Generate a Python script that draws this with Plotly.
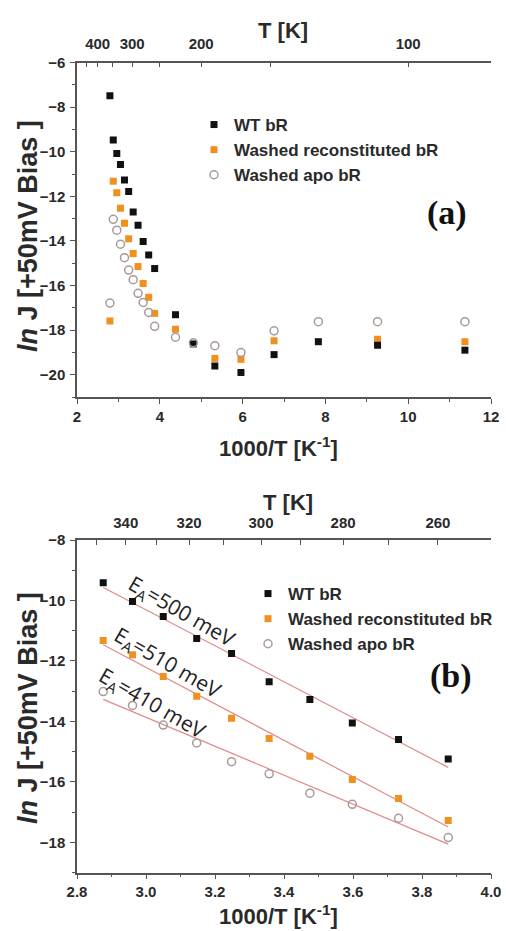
import numpy as np
import plotly.graph_objects as go

# ---------------- data: panel (a) ----------------
a_wt_x = [2.795, 2.876, 2.961, 3.05, 3.147, 3.248, 3.357, 3.475, 3.598, 3.732, 3.876,
          4.38, 4.81, 5.33, 5.96, 6.76, 7.83, 9.26, 11.37]
a_wt_y = [-7.49, -9.47, -10.08, -10.57, -11.27, -11.79, -12.70, -13.30, -14.03, -14.63, -15.24,
          -17.31, -18.62, -19.61, -19.90, -19.10, -18.52, -18.68, -18.90]

a_re_x = [2.795, 2.876, 2.961, 3.05, 3.147, 3.248, 3.357, 3.475, 3.598, 3.732, 3.876,
          4.38, 5.33, 5.96, 6.76, 9.26, 11.37]
a_re_y = [-17.59, -11.32, -11.84, -12.54, -13.21, -13.90, -14.57, -15.15, -15.91, -16.53, -17.25,
          -17.96, -19.27, -19.31, -18.48, -18.41, -18.52]

a_apo_x = [2.795, 2.876, 2.961, 3.05, 3.147, 3.248, 3.357, 3.475, 3.598, 3.732, 3.876,
           4.38, 4.81, 5.33, 5.96, 6.76, 7.83, 9.26, 11.37]
a_apo_y = [-16.79, -13.03, -13.52, -14.15, -14.75, -15.31, -15.74, -16.35, -16.76, -17.21, -17.83,
           -18.32, -18.57, -18.70, -19.01, -18.03, -17.62, -17.62, -17.62]

# ---------------- data: panel (b) ----------------
b_x = [2.876, 2.961, 3.05, 3.147, 3.248, 3.357, 3.475, 3.598, 3.732, 3.876]
b_wt_y = [-9.41, -10.03, -10.53, -11.26, -11.75, -12.69, -13.27, -14.05, -14.60, -15.24]
b_re_y = [-11.32, -11.79, -12.51, -13.17, -13.89, -14.56, -15.15, -15.92, -16.55, -17.27]
b_apo_y = [-13.01, -13.47, -14.12, -14.71, -15.33, -15.73, -16.37, -16.74, -17.20, -17.84]
b_ea_labels = ["E<sub>A</sub>=500 meV", "E<sub>A</sub>=510 meV", "E<sub>A</sub>=410 meV"]

# top-axis temperature ticks
a_T_ticks = [450, 400, 350, 300, 250, 200, 150, 100]
a_T_labels = ["", "400", "", "300", "", "200", "", "100"]
b_T_ticks = [350, 340, 330, 320, 310, 300, 290, 280, 270, 260, 250]
b_T_labels = ["", "340", "", "320", "", "300", "", "280", "", "260", ""]

names = ["WT bR", "Washed reconstituted bR", "Washed apo bR"]

# ---------------- styles ----------------
BLACK = "#111111"
ORANGE = "#f0901e"
CIRC = "#a89a9a"
FIT = "#e08a8a"
AXC = "#555555"
TXT = "#2a2a2a"
SANS = "Liberation Sans"

fig = go.Figure()

sq = dict(symbol="square", size=7)
circ = dict(symbol="circle-open", size=8, color=CIRC, line=dict(width=1.5, color=CIRC))

# panel (a) traces (orange below black, circles on top; circles use the top T axis)
fig.add_trace(go.Scatter(x=a_re_x, y=a_re_y, mode="markers", name=names[1], legendrank=2,
                         marker=dict(**sq, color=ORANGE), xaxis="x", yaxis="y", legend="legend"))
fig.add_trace(go.Scatter(x=a_wt_x, y=a_wt_y, mode="markers", name=names[0], legendrank=1,
                         marker=dict(**sq, color=BLACK), xaxis="x", yaxis="y", legend="legend"))
fig.add_trace(go.Scatter(x=a_apo_x, y=a_apo_y, mode="markers", name=names[2], legendrank=3,
                         marker=circ, xaxis="x2", yaxis="y", legend="legend"))

# panel (b) fits
bx = np.array(b_x)
for ys in (b_wt_y, b_re_y, b_apo_y):
    k, c = np.polyfit(bx, np.array(ys), 1)
    xs = np.array([bx.min(), bx.max()])
    fig.add_trace(go.Scatter(x=xs, y=k * xs + c, mode="lines", line=dict(color=FIT, width=1.2),
                             showlegend=False, hoverinfo="skip", xaxis="x3", yaxis="y2"))

fig.add_trace(go.Scatter(x=b_x, y=b_re_y, mode="markers", name=names[1], legendrank=2,
                         marker=dict(**sq, color=ORANGE), xaxis="x3", yaxis="y2", legend="legend2"))
fig.add_trace(go.Scatter(x=b_x, y=b_wt_y, mode="markers", name=names[0], legendrank=1,
                         marker=dict(**sq, color=BLACK), xaxis="x3", yaxis="y2", legend="legend2"))
fig.add_trace(go.Scatter(x=b_x, y=b_apo_y, mode="markers", name=names[2], legendrank=3,
                         marker=circ, xaxis="x4", yaxis="y2", legend="legend2"))

W, H = 506, 931
xdom = [77 / W, 491 / W]
ya_dom = [1 - 397 / H, 1 - 62.5 / H]
yb_dom = [1 - 872.7 / H, 1 - 540 / H]

tickfont = dict(family=SANS, size=15, color=TXT, weight="bold")
common = dict(showline=True, linecolor=AXC, linewidth=1.5, showgrid=False, zeroline=False,
              tickcolor=AXC, tickwidth=1.3, tickfont=tickfont, automargin=False)

fig.update_layout(
    width=W, height=H, margin=dict(l=0, r=0, t=0, b=0, autoexpand=False),
    paper_bgcolor="white", plot_bgcolor="white", showlegend=True,
    xaxis=dict(domain=xdom, anchor="y", range=[2, 12], tick0=2, dtick=2, ticks="outside", ticklen=5,
               minor=dict(dtick=1, ticks="outside", ticklen=3, tickcolor=AXC), **common),
    xaxis2=dict(overlaying="x", side="top", anchor="y", range=[2, 12], tickmode="array",
                tickvals=[1000 / t for t in a_T_ticks], ticktext=a_T_labels, ticks="inside", ticklen=5,
                ticklabelstandoff=6, **common),
    yaxis=dict(domain=ya_dom, anchor="x", range=[-21, -6], tick0=-6, dtick=2, ticks="outside", ticklen=5,
               minor=dict(dtick=1, ticks="outside", ticklen=3, tickcolor=AXC), ticklabelstandoff=2, **common),
    xaxis3=dict(domain=xdom, anchor="y2", range=[2.8, 4.0], tick0=2.8, dtick=0.2, tickformat=".1f",
                ticks="outside", ticklen=5,
                minor=dict(dtick=0.1, ticks="outside", ticklen=3, tickcolor=AXC), **common),
    xaxis4=dict(overlaying="x3", side="top", anchor="y2", range=[2.8, 4.0], tickmode="array",
                tickvals=[1000 / t for t in b_T_ticks], ticktext=b_T_labels, ticks="inside", ticklen=5,
                ticklabelstandoff=4, **common),
    yaxis2=dict(domain=yb_dom, anchor="x3", range=[-19, -8], tick0=-8, dtick=2, ticks="outside", ticklen=5,
                minor=dict(dtick=1, ticks="outside", ticklen=3, tickcolor=AXC), ticklabelstandoff=2, **common),
    legend=dict(x=194 / W, y=1 - 107 / H, xanchor="left", yanchor="top", bgcolor="rgba(0,0,0,0)",
                font=dict(family=SANS, size=17, color=TXT, weight="bold"), tracegroupgap=0,
                traceorder="normal", itemsizing="trace"),
    legend2=dict(x=248 / W, y=1 - 576 / H, xanchor="left", yanchor="top", bgcolor="rgba(0,0,0,0)",
                 font=dict(family=SANS, size=17, color=TXT, weight="bold"), tracegroupgap=0,
                 traceorder="normal", itemsizing="trace"),
)

title_font = dict(family=SANS, size=22, color=TXT, weight="bold")
ylab_font = dict(family=SANS, size=27, color=TXT, weight="bold")
P = dict(xref="paper", yref="paper", showarrow=False, xanchor="center", yanchor="middle")
ann = []
# axis titles panel (a)
ann.append(dict(text="T [K]", x=283 / W, y=1 - 30 / H, font=title_font, **P))
ann.append(dict(text="1000/T [K<sup>-1</sup>]", x=278 / W, y=1 - 447 / H, font=title_font, **P))
ann.append(dict(text="<i>ln</i> J [+50mV Bias ]", x=28 / W, y=1 - 236 / H, textangle=-90, font=ylab_font, **P))
# axis titles panel (b)
ann.append(dict(text="T [K]", x=288 / W, y=1 - 502 / H, font=title_font, **P))
ann.append(dict(text="1000/T [K<sup>-1</sup>]", x=278 / W, y=1 - 915 / H, font=title_font, **P))
ann.append(dict(text="<i>ln</i> J [+50mV Bias ]", x=28 / W, y=1 - 708 / H, textangle=-90, font=ylab_font, **P))
# panel labels
ann.append(dict(text="(a)", x=447 / W, y=1 - 213 / H,
                font=dict(family="Liberation Serif", size=34, color="#111", weight="bold"), **P))
ann.append(dict(text="(b)", x=451 / W, y=1 - 676 / H,
                font=dict(family="Liberation Serif", size=34, color="#111", weight="bold"), **P))
# activation energy labels
ea_pos = [(3.104, -10.39), (3.061, -12.08), (3.02, -13.41)]
for lab, (ex, ey) in zip(b_ea_labels, ea_pos):
    ann.append(dict(text=lab, x=ex, y=ey, xref="x3", yref="y2", showarrow=False, textangle=30,
                    xanchor="center", yanchor="middle",
                    font=dict(family="Open Sans", size=21, color="#222")))
fig.update_layout(annotations=ann)

fig.write_html("out.html")
